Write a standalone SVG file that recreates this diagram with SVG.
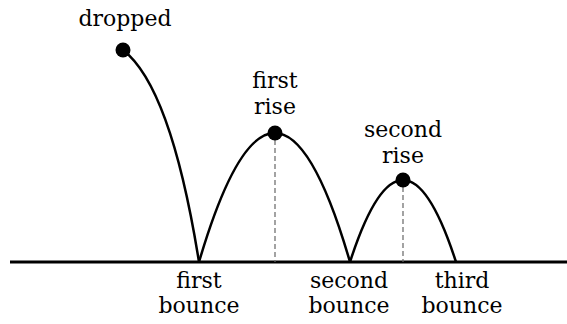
<svg xmlns="http://www.w3.org/2000/svg" width="567" height="324" viewBox="0 0 567 324">
<style>
  .lbl { font-family: 'DejaVu Serif', serif; font-size: 22px; fill: #000; text-anchor: middle; }
  .path { fill: none; stroke: #000; stroke-width: 2.5; }
  .ground { fill: none; stroke: #000; stroke-width: 3; }
  .drop { fill: none; stroke: #666; stroke-width: 1.2; stroke-dasharray: 5 3; }
  .dot { fill: #000; }
</style>
<rect width="567" height="324" fill="#fff"/>
<g id="connectors">
  <line class="ground" x1="10" y1="262" x2="567" y2="262"/>
  <path class="path" d="M123,50 Q171,87 199,262"/>
  <path class="path" d="M199,262 Q275,4 350,262"/>
  <path class="path" d="M350,262 Q403,98 456,262"/>
  <line class="drop" x1="275" y1="140" x2="275" y2="262"/>
  <line class="drop" x1="403" y1="187" x2="403" y2="262"/>
</g>
<g id="dropped">
  <circle class="dot" cx="123" cy="50" r="7.5"/>
  <text class="lbl" x="125" y="26">dropped</text>
</g>
<g id="first-rise">
  <circle class="dot" cx="275" cy="133" r="7.5"/>
  <text class="lbl" x="275" y="88">first</text>
  <text class="lbl" x="275" y="114">rise</text>
</g>
<g id="second-rise">
  <circle class="dot" cx="403" cy="180" r="7.5"/>
  <text class="lbl" x="403" y="137">second</text>
  <text class="lbl" x="403" y="163">rise</text>
</g>
<g id="first-bounce">
  <text class="lbl" x="199" y="288">first</text>
  <text class="lbl" x="199" y="313">bounce</text>
</g>
<g id="second-bounce">
  <text class="lbl" x="349" y="288">second</text>
  <text class="lbl" x="349" y="313">bounce</text>
</g>
<g id="third-bounce">
  <text class="lbl" x="462" y="288">third</text>
  <text class="lbl" x="462" y="313">bounce</text>
</g>
</svg>
